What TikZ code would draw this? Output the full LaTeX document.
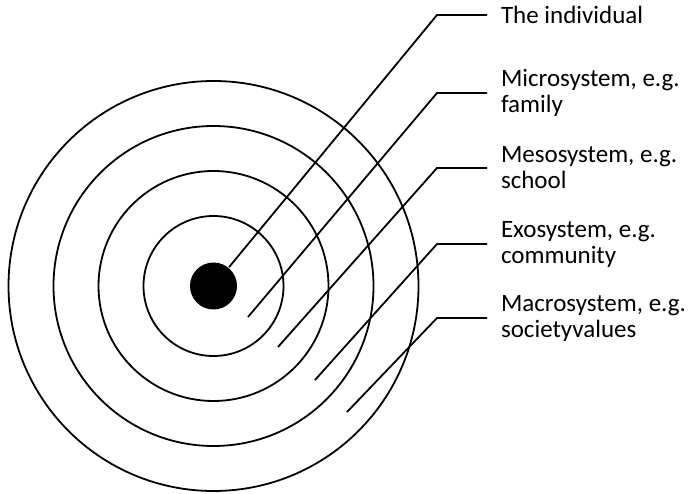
\documentclass[tikz,border=0pt]{standalone}
\usepackage{fontspec}
\setmainfont{Carlito}

\begin{document}
\begin{tikzpicture}[x=1pt,y=-1pt,line width=1.8pt,
  dot/.style={circle,fill=black,minimum size=47pt,inner sep=0pt},
  layer/.style={anchor=west,align=left,inner sep=0pt,outer sep=14pt,
    font=\fontsize{25}{26}\selectfont}]
\useasboundingbox (0,0) rectangle (691,494);
\coordinate (c) at (213.5,286);
\foreach \r in {70,115,160,205}
  \draw (c) circle[radius=\r];
\node[dot] (indiv) at (c) {};

\coordinate (micro-tip) at (248,317);
\coordinate (meso-tip) at (278,347);
\coordinate (exo-tip) at (315,380);
\coordinate (macro-tip) at (347,412);

\coordinate (indiv-bend) at (437,15);
\coordinate (micro-bend) at (437,93);
\coordinate (meso-bend) at (437,168);
\coordinate (exo-bend) at (437,244);
\coordinate (macro-bend) at (437,318);

\node[layer] (indiv-text) at (487,15) {The individual};
\node[layer] (micro-text) at (487,93) {Microsystem, e.g.\\family};
\node[layer] (meso-text) at (487,168) {Mesosystem, e.g.\\school};
\node[layer] (exo-text) at (487,244) {Exosystem, e.g.\\community};
\node[layer] (macro-text) at (487,318) {Macrosystem, e.g.\\societyvalues};

\draw (indiv) -- (indiv-bend) -- (indiv-text.west);
\foreach \name in {micro,meso,exo,macro}
  \draw (\name-tip) -- (\name-bend) -- (\name-text.west);
\end{tikzpicture}
\end{document}
